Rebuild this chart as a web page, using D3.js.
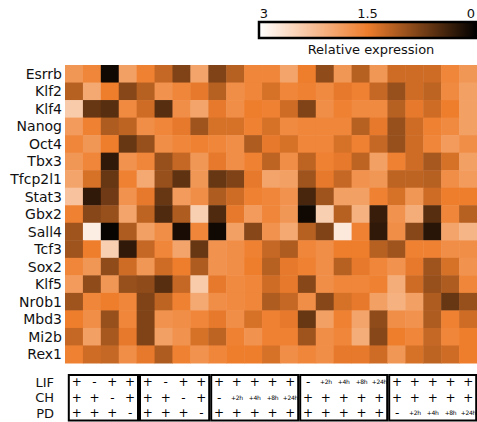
<!DOCTYPE html>
<html>
<head>
<meta charset="utf-8">
<script src="https://cdn.jsdelivr.net/npm/d3@7"></script>
<style>
  body { margin: 0; background: #fff; }
  svg { display: block; font-family: "DejaVu Sans", sans-serif; }
</style>
</head>
<body>
<svg width="477" height="422"></svg>
<script>
var genes = ["Esrrb", "Klf2", "Klf4", "Nanog", "Oct4", "Tbx3", "Tfcp2l1", "Stat3", "Gbx2",
             "Sall4", "Tcf3", "Sox2", "Klf5", "Nr0b1", "Mbd3", "Mi2b", "Rex1"];

// relative expression, one row per gene, 23 conditions
var values = [
  [1.8,1.6,0.1,1.9,1.55,1.25, 0.8,1.95,0.8,1.15,1.6,1.6, 1.95,1.5,0.9,1.8,1.15,1.8, 1.3,1.3,1.3,1.6,1.8],
  [1.15,2.0,1.5,0.85,1.15,1.75, 1.6,1.45,1.15,1.7,1.6,1.35, 1.6,1.55,1.65,1.45,1.55,1.25, 0.95,1.3,1.2,1.65,1.9],
  [2.4,0.65,0.55,1.65,1.3,0.55, 1.7,1.95,1.45,1.7,1.5,1.55, 1.3,0.8,1.7,1.55,1.65,1.65, 1.15,1.45,1.3,1.5,1.9],
  [1.85,1.55,1.1,1.2,1.7,1.6, 1.45,1.0,1.35,1.35,1.55,1.35, 1.65,1.6,1.6,1.6,1.15,1.45, 0.95,1.3,1.55,1.65,1.9],
  [1.6,1.8,1.5,0.65,0.95,1.7, 1.6,1.55,1.6,1.7,1.1,1.45, 1.35,1.6,1.6,1.35,1.55,1.25, 0.95,1.3,1.6,1.85,1.7],
  [1.8,1.6,0.3,1.75,1.6,0.95, 1.25,1.8,1.45,1.7,1.55,1.2, 1.7,1.2,1.55,1.45,1.2,1.9, 1.55,1.3,1.05,1.35,1.9],
  [1.95,1.35,0.65,1.55,2.0,0.95, 0.6,1.8,0.65,0.8,1.45,1.95, 1.9,1.0,1.45,1.25,1.75,1.8, 1.2,1.2,1.15,1.7,1.85],
  [2.3,0.3,0.7,1.75,1.45,0.65, 1.85,1.7,1.1,1.3,1.55,1.6, 1.75,0.45,1.0,1.9,1.9,1.55, 1.35,1.8,1.3,1.5,1.5],
  [1.55,0.85,0.95,1.95,1.2,0.5, 1.1,2.45,0.5,1.45,1.85,1.6, 1.8,0.1,2.45,1.15,2.1,0.35, 1.75,2.05,0.55,1.6,1.15],
  [1.0,2.8,0.05,1.1,1.9,1.7, 0.15,1.6,0.1,1.9,0.85,1.75, 2.0,1.15,0.8,2.75,1.55,0.3, 1.7,0.85,0.25,1.95,2.15],
  [1.0,1.5,2.45,0.3,1.25,1.6, 1.95,0.65,1.75,1.7,1.55,1.25, 1.1,1.6,1.7,1.5,1.5,1.15, 1.0,1.55,1.55,1.7,1.7],
  [1.6,1.8,0.9,1.3,1.8,1.3, 1.5,1.1,1.75,1.7,1.5,1.15, 1.45,1.55,1.7,1.15,1.45,1.6, 1.75,1.45,1.0,1.35,1.75],
  [1.85,0.9,1.8,0.95,0.9,0.55, 1.25,2.4,1.45,1.65,1.6,1.3, 1.45,0.85,1.7,1.6,1.6,1.55, 2.05,1.3,0.95,1.1,1.6],
  [1.0,1.6,1.5,1.6,0.8,1.2, 1.55,2.0,1.7,1.65,1.6,1.1, 1.25,1.7,0.85,1.35,1.45,1.9, 2.1,1.9,1.1,0.65,0.95],
  [1.5,1.7,0.95,1.6,0.8,1.75, 1.7,1.6,1.45,1.7,1.35,1.55, 1.45,0.65,1.9,1.55,1.95,0.9, 1.7,1.75,1.1,1.55,1.3],
  [1.25,1.9,1.05,1.45,0.8,1.9, 1.75,1.35,1.2,1.55,1.75,1.55, 1.55,1.0,1.7,1.6,2.05,0.85, 1.5,1.6,1.25,1.6,1.5],
  [1.55,1.3,1.25,1.7,1.45,1.1, 1.55,1.75,1.6,1.5,1.5,1.35, 1.7,1.6,1.7,1.45,1.45,1.3, 1.8,1.35,1.2,1.3,1.5]
];

// condition table under the heatmap
var factors = ["LIF", "CH", "PD"];
var groupSizes = [4, 4, 5, 5, 5];
var lifRow = ["+","-","+","+", "+","-","+","+", "+","+","+","+","+", "-","+2h","+4h","+8h","+24h", "+","+","+","+","+"];
var chRow  = ["+","+","-","+", "+","+","-","+", "-","+2h","+4h","+8h","+24h", "+","+","+","+","+", "+","+","+","+","+"];
var pdRow  = ["+","+","+","-", "+","+","+","-", "+","+","+","+","+", "+","+","+","+","+", "-","+2h","+4h","+8h","+24h"];
var legendTicks = [3, 1.5, 0];

var svg = d3.select("svg");
var nCols = values[0].length;

var color = d3.scaleLinear()
    .domain([0, 1.5, 3])
    .range(["#000000", "#ee7d2c", "#ffffff"]);

var x = d3.scaleBand().domain(d3.range(nCols)).range([65, 477]);
var y = d3.scaleBand().domain(genes).range([65, 363]);

// heatmap cells
var cells = [];
values.forEach(function(row, i) {
  row.forEach(function(v, j) { cells.push({gene: genes[i], col: j, value: v}); });
});

svg.append("g")
    .attr("class", "cells")
  .selectAll("rect")
  .data(cells)
  .enter().append("rect")
    .attr("x", function(d) { return x(d.col); })
    .attr("y", function(d) { return y(d.gene); })
    .attr("width", x.bandwidth() + 0.5)
    .attr("height", y.bandwidth() + 0.5)
    .attr("fill", function(d) { return color(d.value); });

svg.append("g")
    .attr("class", "genes")
  .selectAll("text")
  .data(genes)
  .enter().append("text")
    .attr("x", 62)
    .attr("y", function(d) { return y(d) + y.bandwidth() / 2; })
    .attr("dy", "0.36em")
    .attr("text-anchor", "end")
    .attr("font-size", 14)
    .attr("fill", "#111")
    .text(function(d) { return d; });

// legend
var lx = d3.scaleLinear().domain([3, 0]).range([264, 471]);
var grad = svg.append("defs").append("linearGradient")
    .attr("id", "legendGrad");
grad.selectAll("stop")
  .data([3, 2.25, 1.5, 0.75, 0])
  .enter().append("stop")
    .attr("offset", function(d, i) { return (i * 25) + "%"; })
    .attr("stop-color", function(d) { return color(d); });

svg.append("rect")
    .attr("x", 259)
    .attr("y", 22)
    .attr("width", 217)
    .attr("height", 16)
    .attr("fill", "url(#legendGrad)")
    .attr("stroke", "#000")
    .attr("stroke-width", 2.5);

svg.append("g")
  .selectAll("text")
  .data(legendTicks)
  .enter().append("text")
    .attr("x", function(d) { return lx(d); })
    .attr("y", 18)
    .attr("text-anchor", "middle")
    .attr("font-size", 13)
    .attr("fill", "#111")
    .text(function(d) { return d; });

svg.append("text")
    .attr("x", 371)
    .attr("y", 54)
    .attr("text-anchor", "middle")
    .attr("font-size", 13)
    .attr("fill", "#111")
    .text("Relative expression");

// condition table
var tx = d3.scaleBand().domain(d3.range(nCols)).range([67.8, 67.8 + 17.8 * nCols]);
var ty = d3.scalePoint().domain(factors).range([382, 413]);
var tableRows = [lifRow, chRow, pdRow];

svg.append("g")
  .selectAll("text")
  .data(factors)
  .enter().append("text")
    .attr("x", 54)
    .attr("y", function(d) { return ty(d); })
    .attr("dy", "0.36em")
    .attr("text-anchor", "end")
    .attr("font-size", 13)
    .attr("fill", "#111")
    .text(function(d) { return d; });

var start = 0;
var boxes = groupSizes.map(function(n) {
  var b = {from: start, to: start + n};
  start += n;
  return b;
});

svg.append("g")
  .selectAll("rect")
  .data(boxes)
  .enter().append("rect")
    .attr("x", function(d) { return tx(d.from) + 1; })
    .attr("y", 375)
    .attr("width", function(d) { return tx(d.to - 1) + tx.bandwidth() - tx(d.from) - 2; })
    .attr("height", 45.5)
    .attr("fill", "none")
    .attr("stroke", "#000")
    .attr("stroke-width", 2);

var marks = [];
tableRows.forEach(function(row, i) {
  row.forEach(function(s, j) { marks.push({factor: factors[i], col: j, sym: s}); });
});

svg.append("g")
  .selectAll("text")
  .data(marks)
  .enter().append("text")
    .attr("x", function(d) { return tx(d.col) + tx.bandwidth() / 2; })
    .attr("y", function(d) { return ty(d.factor); })
    .attr("dy", "0.36em")
    .attr("text-anchor", "middle")
    .attr("font-size", function(d) { return d.sym.length > 1 ? 6 : 12; })
    .attr("letter-spacing", function(d) { return d.sym.length > 1 ? -0.3 : 0; })
    .attr("fill", "#000")
    .text(function(d) { return d.sym; });
</script>
</body>
</html>
